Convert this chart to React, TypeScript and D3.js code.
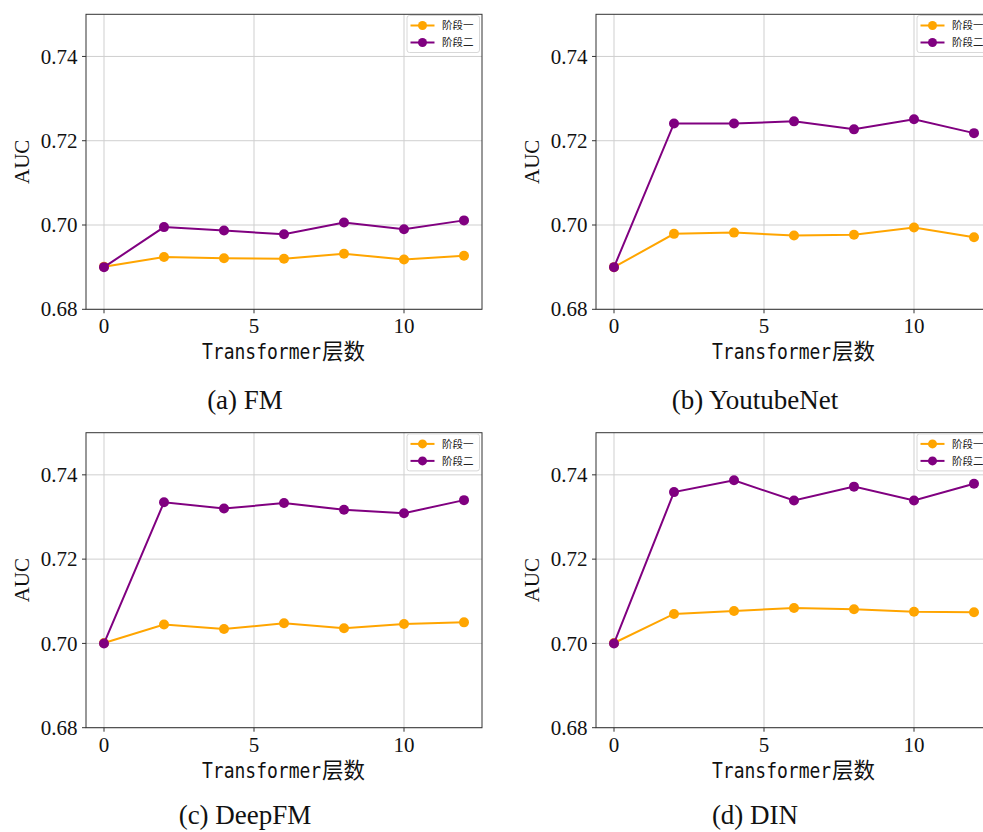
import React from "react";
import * as d3 from "d3";

const layers = [0, 2, 4, 6, 8, 10, 12];
const seriesNames = ["阶段一", "阶段二"];
const seriesColors = ["#FFA500", "#800080"];
const xTicks = [0, 5, 10];
const yTicks = [0.68, 0.7, 0.72, 0.74];

const fmStage1 = [0.6901, 0.6924, 0.6921, 0.692, 0.6932, 0.6918, 0.6927];
const fmStage2 = [0.69, 0.6995, 0.6987, 0.6978, 0.7006, 0.699, 0.7011];
const ytStage1 = [0.69, 0.6979, 0.6982, 0.6975, 0.6977, 0.6994, 0.6971];
const ytStage2 = [0.69, 0.7241, 0.7241, 0.7246, 0.7227, 0.7251, 0.7218];
const dfmStage1 = [0.7001, 0.7045, 0.7034, 0.7048, 0.7036, 0.7046, 0.705];
const dfmStage2 = [0.7, 0.7335, 0.732, 0.7333, 0.7317, 0.7309, 0.734];
const dinStage1 = [0.7001, 0.707, 0.7077, 0.7084, 0.7081, 0.7075, 0.7074];
const dinStage2 = [0.7, 0.7359, 0.7387, 0.7339, 0.7372, 0.7339, 0.7379];

const captions = ["(a) FM", "(b) YoutubeNet", "(c) DeepFM", "(d) DIN"];

const panels = [
  { caption: captions[0], s1: fmStage1, s2: fmStage2, left: 86, top: 14.3, capY: 409.3 },
  { caption: captions[1], s1: ytStage1, s2: ytStage2, left: 596, top: 14.3, capY: 409.3 },
  { caption: captions[2], s1: dfmStage1, s2: dfmStage2, left: 86, top: 432.7, capY: 824 },
  { caption: captions[3], s1: dinStage1, s2: dinStage2, left: 596, top: 432.7, capY: 824 },
];

const W = 396;
const H = 295;
const SERIF = "'Liberation Serif', 'Times New Roman', serif";
const CJK = "'Noto Sans CJK SC', sans-serif";

function Panel({ p }: { p: any }) {
  const x = d3.scaleLinear().domain([-0.6, 12.6]).range([p.left, p.left + W]);
  const y = d3.scaleLinear().domain([0.68, 0.75]).range([p.top + H, p.top]);
  const line = d3
    .line<number>()
    .x((_, i) => x(layers[i]))
    .y((v) => y(v));
  const series = [p.s1, p.s2];
  const right = p.left + W;
  const bottom = p.top + H;
  const lgX = right - 75;
  const lgY = p.top + 1.2;
  const xl = p.left + 116;
  const xlY = bottom + 50;
  return (
    <g>
      {xTicks.map((t) => (
        <line key={"gx" + t} x1={x(t)} x2={x(t)} y1={p.top} y2={bottom} stroke="#cfcfcf" strokeWidth={1} />
      ))}
      {yTicks.map((t) => (
        <line key={"gy" + t} x1={p.left} x2={right} y1={y(t)} y2={y(t)} stroke="#cfcfcf" strokeWidth={1} />
      ))}
      {series.map((s: number[], si: number) => (
        <g key={"s" + si}>
          <path d={line(s) || ""} fill="none" stroke={seriesColors[si]} strokeWidth={2} />
          {s.map((v, i) => (
            <circle key={i} cx={x(layers[i])} cy={y(v)} r={5} fill={seriesColors[si]} />
          ))}
        </g>
      ))}
      <rect x={p.left} y={p.top} width={W} height={H} fill="none" stroke="#333" strokeWidth={1} />
      {xTicks.map((t) => (
        <g key={"tx" + t}>
          <line x1={x(t)} x2={x(t)} y1={bottom} y2={bottom + 4} stroke="#333" strokeWidth={1} />
          <text x={x(t)} y={bottom + 24} textAnchor="middle" fontFamily={SERIF} fontSize={21} fill="#111">
            {t}
          </text>
        </g>
      ))}
      {yTicks.map((t) => (
        <g key={"ty" + t}>
          <line x1={p.left - 4} x2={p.left} y1={y(t)} y2={y(t)} stroke="#333" strokeWidth={1} />
          <text x={p.left - 8.5} y={y(t)} dy="0.34em" textAnchor="end" fontFamily={SERIF} fontSize={21} fill="#111">
            {d3.format(".2f")(t)}
          </text>
        </g>
      ))}
      <text
        transform={`translate(${p.left - 57},${p.top + H / 2}) rotate(-90)`}
        textAnchor="middle"
        fontFamily={SERIF}
        fontSize={21}
        fill="#111"
      >
        AUC
      </text>
      <text
        transform={`translate(${xl},${xlY}) scale(1,1.2)`}
        fontSize={18}
        fill="#111"
        fontFamily="'DejaVu Sans Mono', monospace"
      >
        Transformer
      </text>
      <text x={xl + 120} y={xlY} fontFamily={CJK} fontSize={21.5} fill="#111">
        层数
      </text>
      <rect x={lgX} y={lgY} width={72.5} height={37} rx={2.5} fill="#fff" fillOpacity={0.85} stroke="#d8d8d8" strokeWidth={1} />
      {seriesNames.map((n, i) => {
        const cy = lgY + 10 + i * 17;
        return (
          <g key={n}>
            <line x1={lgX + 3.5} x2={lgX + 27.5} y1={cy} y2={cy} stroke={seriesColors[i]} strokeWidth={2} />
            <circle cx={lgX + 15.5} cy={cy} r={4.5} fill={seriesColors[i]} />
            <text x={lgX + 35} y={cy} dy="0.36em" fontFamily={CJK} fontSize={10.5} fill="#222">
              {n}
            </text>
          </g>
        );
      })}
      <text x={p.left + 159} y={p.capY} textAnchor="middle" fontFamily={SERIF} fontSize={27} fill="#111">
        {p.caption}
      </text>
    </g>
  );
}

export default function App() {
  return (
    <svg
      width={983}
      height={832}
      style={{ position: "absolute", left: 0, top: 0, background: "#fff" }}
    >
      <rect x={0} y={0} width={983} height={832} fill="#fff" />
      {panels.map((p, i) => (
        <Panel key={i} p={p} />
      ))}
    </svg>
  );
}
